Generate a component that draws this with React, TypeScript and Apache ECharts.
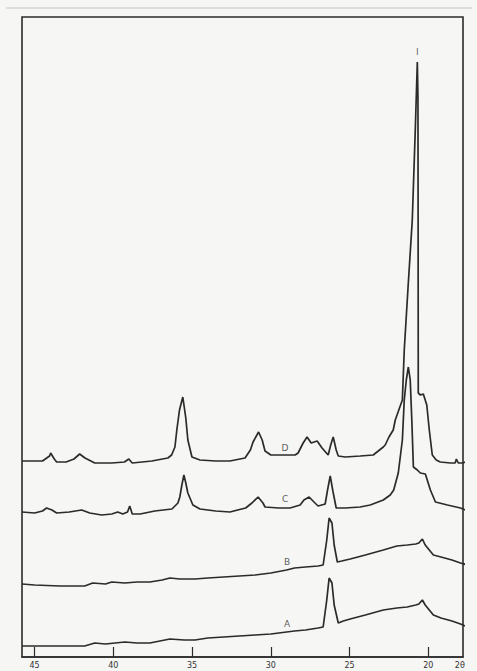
import React, { useEffect, useRef } from 'react';
import * as echarts from 'echarts';

// 2θ (degrees), axis runs from high (left) to low (right)
const xTickValues = [20, 25, 30, 35, 40, 45];
const xLabelValues = [18, 20, 25, 30, 35, 40, 45];

// Stacked diffractograms: [2θ, intensity (arb. units, offset stacked)]
const traceD: [number, number][] = [
  [45.8, 196], [44.5, 196], [44.05, 201], [43.98, 204], [43.75, 198], [43.6, 195],
  [43.0, 195], [42.5, 198], [42.14, 203], [41.8, 199], [41.18, 194], [40.1, 194],
  [39.3, 195], [39.02, 198], [38.8, 194], [37.56, 196], [36.54, 199], [36.3, 202],
  [36.09, 210], [35.97, 227], [35.8, 247], [35.59, 260], [35.4, 239], [35.27, 217],
  [35.01, 200], [34.5, 197], [33.5, 196], [32.6, 196], [31.64, 199], [31.3, 207],
  [31.13, 215], [30.78, 225], [30.55, 217], [30.37, 206], [30.0, 202], [29.41, 202],
  [28.46, 202], [28.27, 204], [27.95, 214], [27.7, 220], [27.44, 214], [27.06, 216],
  [26.75, 209], [26.36, 202], [26.2, 212], [26.04, 220], [25.85, 207], [25.72, 201],
  [25.28, 200], [24.33, 201], [23.5, 202], [22.86, 210], [22.74, 212], [22.5, 220],
  [22.23, 227], [22.1, 237], [21.65, 257], [21.53, 307], [21.28, 372], [21.02, 437],
  [20.83, 527], [20.7, 595], [20.66, 560], [20.65, 437], [20.64, 264], [20.5, 262],
  [20.32, 263], [20.1, 252], [19.94, 227], [19.75, 202], [19.5, 197], [19.24, 195],
  [18.6, 194], [18.3, 194], [18.22, 198], [18.1, 194], [17.8, 194], [17.5, 196],
];

const traceC: [number, number][] = [
  [45.8, 145], [45.0, 144], [44.5, 146], [44.24, 149], [43.9, 147], [43.6, 144],
  [42.8, 145], [42.01, 147], [41.5, 144], [40.74, 142], [40.1, 143], [39.72, 145],
  [39.4, 143], [39.1, 145], [38.96, 151], [38.8, 143], [38.3, 143], [37.37, 146],
  [36.28, 148], [35.9, 154], [35.78, 160], [35.65, 172], [35.52, 182], [35.4, 174],
  [35.27, 164], [34.95, 152], [34.5, 148], [33.5, 146], [32.6, 145], [31.6, 149],
  [31.2, 154], [30.81, 160], [30.5, 154], [30.37, 150], [29.5, 149], [28.78, 149],
  [28.14, 152], [27.9, 157], [27.57, 160], [27.2, 154], [27.0, 151], [26.55, 153],
  [26.4, 167], [26.23, 181], [26.05, 165], [25.85, 149], [25.28, 149], [24.33, 150],
  [23.69, 152], [22.86, 157], [22.42, 162], [22.2, 167], [21.91, 184], [21.65, 217],
  [21.53, 257], [21.4, 277], [21.27, 290], [21.15, 277], [21.05, 237], [20.95, 190],
  [20.7, 187], [20.51, 184], [20.19, 183], [19.87, 167], [19.55, 155], [18.79, 152],
  [17.96, 149], [17.5, 146],
];

const traceB: [number, number][] = [
  [45.8, 73], [45.0, 72], [43.4, 71], [41.82, 71], [41.31, 74], [40.5, 73],
  [40.1, 75], [39.27, 74], [38.5, 75], [37.68, 75], [36.9, 77], [36.41, 79],
  [35.78, 78], [34.82, 78], [34.0, 79], [33.0, 80], [32.0, 81], [31.0, 82],
  [30.0, 84], [29.0, 87], [28.5, 89], [27.8, 90], [27.0, 91], [26.68, 92],
  [26.45, 117], [26.3, 139], [26.12, 134], [25.98, 112], [25.78, 95], [25.5, 96],
  [24.96, 98], [24.0, 102], [22.86, 107], [22.0, 111], [21.34, 112], [20.8, 113],
  [20.6, 114], [20.38, 118], [20.2, 112], [19.68, 102], [19.2, 100], [18.5, 97],
  [17.96, 94], [17.5, 92],
];

const traceA: [number, number][] = [
  [45.8, 11], [45.0, 11], [44.0, 11], [41.82, 11], [41.18, 14], [40.5, 13],
  [39.27, 15], [38.5, 14], [37.68, 14], [36.41, 18], [35.5, 17], [34.82, 17],
  [34.0, 19], [33.0, 20], [32.0, 21], [31.0, 22], [30.0, 23], [29.0, 25],
  [28.5, 26], [27.8, 27], [27.0, 29], [26.68, 30], [26.45, 57], [26.3, 79],
  [26.12, 74], [25.98, 52], [25.72, 34], [25.4, 36], [24.96, 38], [24.0, 42],
  [22.86, 47], [22.0, 49], [21.34, 50], [20.8, 52], [20.6, 53], [20.38, 57],
  [20.2, 52], [19.68, 42], [19.2, 39], [18.5, 36], [17.96, 33], [17.5, 30],
];

const traceLabels = [
  { name: 'D', value: [29.1, 205] },
  { name: 'C', value: [29.1, 154] },
  { name: 'B', value: [28.97, 91] },
  { name: 'A', value: [28.97, 29] },
  { name: 'I', value: [20.7, 601] },
];

const INK = '#2b2b2b';

export default function App() {
  const ref = useRef<HTMLDivElement>(null);
  useEffect(() => {
    const chart = echarts.init(ref.current!, null, { renderer: 'svg' });
    const lineSeries = (name: string, data: [number, number][]) => ({
      name,
      type: 'line',
      data,
      showSymbol: false,
      symbol: 'none',
      clip: false,
      itemStyle: { color: INK },
      lineStyle: { color: INK, width: 1.7 },
    });
    chart.setOption({
      animation: false,
      backgroundColor: '#f6f6f4',
      color: [INK],
      grid: {
        left: 22, right: 14, top: 17, bottom: 14,
        show: true, borderColor: INK, borderWidth: 1.6, backgroundColor: 'transparent',
      },
      graphic: [
        { type: 'line', shape: { x1: 6, y1: 8, x2: 472, y2: 8 }, style: { stroke: '#c4c4c4', lineWidth: 1 } },
      ],
      xAxis: {
        type: 'value',
        min: 17.8,
        max: 45.8,
        inverse: true,
        splitLine: { show: false },
        axisLine: { show: true, lineStyle: { color: INK, width: 1.6 } },
        axisTick: {
          show: true, inside: true, length: 10, customValues: xTickValues,
          lineStyle: { color: INK, width: 1.2 },
        },
        axisLabel: {
          show: true, customValues: xLabelValues, margin: 4,
          fontSize: 8, color: '#333', fontFamily: 'DejaVu Sans',
          formatter: (v: number) => (v === 18 ? '2θ' : String(v)),
        },
      },
      yAxis: {
        type: 'value', min: 0, max: 640, show: false,
        splitLine: { show: false },
      },
      series: [
        lineSeries('D', traceD),
        lineSeries('C', traceC),
        lineSeries('B', traceB),
        lineSeries('A', traceA),
        {
          type: 'scatter',
          data: traceLabels,
          symbolSize: 0,
          silent: true,
          itemStyle: { color: INK },
          label: {
            show: true, position: 'top', distance: 0, formatter: '{b}',
            fontSize: 9, color: '#333', fontFamily: 'DejaVu Sans',
          },
        },
      ],
    });
    return () => chart.dispose();
  }, []);
  return (
    <div
      ref={ref}
      style={{ position: 'fixed', left: 0, top: 0, width: 477, height: 671 }}
    />
  );
}
